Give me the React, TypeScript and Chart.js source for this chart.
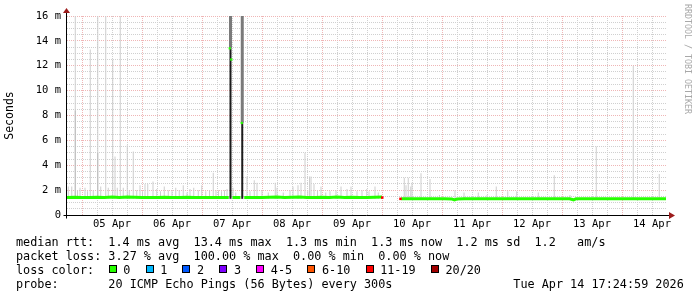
import React, { useEffect, useRef } from 'react';
import { Chart, registerables } from 'chart.js';

Chart.register(...registerables);

// ---- tick labels ----
const DAY_LABELS = ['05 Apr', '06 Apr', '07 Apr', '08 Apr', '09 Apr', '10 Apr', '11 Apr', '12 Apr', '13 Apr', '14 Apr'];
const DAY_LABEL_HOURS = [18, 42, 66, 90, 114, 138, 162, 186, 210, 234];
const MIDNIGHT_HOURS = [6, 30, 54, 78, 102, 126, 150, 174, 198, 222];
const Y_TICK_VALUES = [0, 2, 4, 6, 8, 10, 12, 14, 16];
const Y_TICK_LABELS = ['0', '2 m', '4 m', '6 m', '8 m', '10 m', '12 m', '14 m', '16 m'];

// ---- median rtt (ms) by hour since start of graph; null = no data ----
const MEDIAN_HOURS = [
  0, 3, 6, 9, 12, 15, 18, 21, 24, 27, 30, 33, 36, 39, 42, 45, 48, 51, 54, 57, 60, 63, 64.7,
  64.8, 66.1, 66.2, 69.4, 69.5, 70.8, 70.9, 72, 75, 78, 81, 84, 87, 90, 93, 96, 99, 102, 105,
  108, 111, 114, 117, 120, 123, 126, 130, 133.7, 136, 139, 142, 145, 148, 151, 154, 155, 156,
  159, 162, 165, 168, 171, 174, 177, 180, 183, 186, 189, 192, 195, 198, 201, 202.6, 203.6,
  205, 208, 211, 214, 217, 220, 223, 226, 229, 232, 235, 238, 239.6,
];
const MEDIAN_MS = [
  1.4, 1.43, 1.4, 1.4, 1.42, 1.4, 1.45, 1.4, 1.45, 1.42, 1.4, 1.4, 1.4, 1.42, 1.4, 1.4, 1.42, 1.4, 1.4, 1.4, 1.4, 1.4, 1.4,
  null, null, 1.4, 1.4, null, null, 1.4, 1.4, 1.4, 1.4, 1.42, 1.45, 1.4, 1.42, 1.45, 1.4, 1.4, 1.42, 1.4,
  1.45, 1.4, 1.42, 1.4, 1.4, 1.42, 1.45, null, 1.3, 1.3, 1.3, 1.3, 1.3, 1.3, 1.3, 1.28, 1.22, 1.28,
  1.3, 1.3, 1.3, 1.3, 1.3, 1.3, 1.3, 1.3, 1.3, 1.3, 1.3, 1.3, 1.3, 1.3, 1.3, 1.22, 1.3,
  1.3, 1.3, 1.3, 1.3, 1.3, 1.3, 1.3, 1.3, 1.3, 1.3, 1.3, 1.3, 1.3,
];
// median values during the two latency spikes
const SPIKE_MEDIAN_HOURS = [65.1, 65.7, 69.9];
const SPIKE_MEDIAN_MS = [13.4, 12.5, 7.4];
// loss markers (11-19 lost) at the edges of the outage
const LOSS_MARK_HOURS = [126.1, 133.4];
const LOSS_MARK_MS = [1.4, 1.3];

// ---- smoke (max rtt of the 20 pings), ms ----
const SMOKE_BASE = 1.3;
const SMOKE_HOURS = [
  0.5, 1.9, 3.3, 4.2, 5.2, 7.2, 8.2, 9.3, 10.5, 12.3, 13.5, 15.5, 16.5, 18.3, 19.2, 20.1, 21.3, 22.5,
  24.1, 24.9, 26.5, 27.9, 29.2, 30.2, 31.2, 32.3, 34.4, 35.9, 37.4, 38.9, 40.5, 42, 43.5, 44.9, 46.5,
  48, 49.2, 50.7, 52.5, 53.9, 55.5, 57, 58.5, 59.6, 60.6, 61.8, 63, 64, 66.4, 67.5, 72, 73.2, 74.9,
  76, 78, 80.5, 83.3, 84, 86.5, 89.2, 90.4, 92.4, 93.6, 95.2, 96.3, 97, 97.6, 98.8, 100.2, 101.6,
  103.5, 105.2, 107.6, 109.6, 112, 113.6, 116, 118, 119.9, 120.8, 123.2, 124.5, 134.9, 135.6, 136.5,
  137.5, 138, 141.6, 145.2, 149, 155.2, 158.8, 164.5, 168, 171.7, 176.3, 179.9, 188.5, 194.9, 201.2,
  211.7, 226.5, 236.9,
];
const SMOKE_MAX = [
  2.3, 2.3, 16.5, 2.0, 2.2, 2.2, 1.9, 13.3, 2.0, 16.5, 2.3, 16.5, 2.2, 12.5, 4.7, 2.2, 16.5, 2.2,
  5.6, 2.0, 5.1, 2.0, 2.4, 1.9, 2.5, 2.5, 2.7, 2.1, 1.9, 2.3, 2.0, 1.9, 2.2, 2.0, 2.4,
  1.8, 2.1, 2.2, 2.0, 2.4, 1.9, 2.0, 3.4, 2.0, 2.0, 1.9, 2.0, 2.1, 2.2, 1.8, 3.1, 1.9, 2.8,
  2.6, 2.0, 1.8, 2.6, 2.2, 1.8, 2.0, 2.3, 2.4, 2.6, 5.0, 2.0, 3.1, 3.1, 2.5, 2.0, 2.3,
  1.8, 1.9, 2.0, 2.3, 2.1, 2.3, 1.9, 2.0, 2.1, 1.9, 2.3, 1.8, 3.0, 2.4, 3.0,
  2.3, 2.6, 3.35, 2.9, 1.6, 2.0, 1.8, 1.8, 1.6, 2.3, 1.9, 1.9, 1.8, 3.2, 1.6,
  5.5, 12.0, 3.3,
];
// denser (darker) smoke on two of the early spikes
const DENSE_SMOKE_HOURS = [3.3, 12.3];
const DENSE_SMOKE_MAX = [8.4, 5.0];
// the two big latency spikes
const SPIKE_HOURS = [65.4, 70.1];
const SPIKE_DENSE_MAX = [13.4, 7.4];
const SPIKE_MAX = [16.5, 16.5];

// ---- legend ----
const LOSS_LABELS = ['0', '1', '2', '3', '4-5', '6-10', '11-19', '20/20'];
const LOSS_COLORS = ['#26ff00', '#00b8ff', '#0059ff', '#7e00ff', '#ff00ff', '#ff5500', '#ff0000', '#a10000'];
const LINE_RTT = 'median rtt:  1.4 ms avg  13.4 ms max  1.3 ms min  1.3 ms now  1.2 ms sd  1.2   am/s';
const LINE_LOSS = 'packet loss: 3.27 % avg  100.00 % max  0.00 % min  0.00 % now';
const LINE_COLOR = 'loss color:';
const LINE_PROBE = 'probe:       20 ICMP Echo Pings (56 Bytes) every 300s';
const DATE_TEXT = 'Tue Apr 14 17:24:59 2026';
const WATERMARK = 'RRDTOOL / TOBI OETIKER';

const MONO = "'DejaVu Sans Mono', monospace";
const MAJOR_GRID = '#efb6b6';
const MINOR_GRID = '#d0d0d0';

export default function App() {
  const ref = useRef<HTMLCanvasElement>(null);

  useEffect(() => {
    const canvas = ref.current;
    if (!canvas) return;

    const axesPlugin = {
      id: 'rrdAxes',
      afterDatasetsDraw(chart: any) {
        const { ctx, chartArea } = chart;
        const { left, right, top, bottom } = chartArea;
        const yb = Math.round(bottom) + 0.5;
        const xl = Math.round(left) - 0.5;
        ctx.save();
        ctx.strokeStyle = '#000';
        ctx.lineWidth = 1;
        ctx.beginPath();
        ctx.moveTo(xl - 3, yb);
        ctx.lineTo(right + 3, yb);
        ctx.moveTo(xl, yb + 3);
        ctx.lineTo(xl, top - 3);
        ctx.stroke();
        ctx.fillStyle = '#9c1c1c';
        ctx.beginPath();
        ctx.moveTo(right + 2, yb - 3.5);
        ctx.lineTo(right + 8, yb);
        ctx.lineTo(right + 2, yb + 3.5);
        ctx.closePath();
        ctx.fill();
        ctx.beginPath();
        ctx.moveTo(xl - 3.5, top - 3);
        ctx.lineTo(xl, top - 8);
        ctx.lineTo(xl + 3.5, top - 3);
        ctx.closePath();
        ctx.fill();
        ctx.restore();
      },
    };

    const medianData = MEDIAN_HOURS.map((h, i) => ({ x: h, y: MEDIAN_MS[i] }));
    const smokeData = SMOKE_HOURS.map((h, i) => ({ x: h, y: [SMOKE_BASE, SMOKE_MAX[i]] }));
    const denseData = DENSE_SMOKE_HOURS.map((h, i) => ({ x: h, y: [SMOKE_BASE, DENSE_SMOKE_MAX[i]] }));
    const spikeTopData = SPIKE_HOURS.map((h, i) => ({ x: h, y: [SPIKE_DENSE_MAX[i], SPIKE_MAX[i]] }));
    const spikeDenseData = SPIKE_HOURS.map((h, i) => ({ x: h, y: [SMOKE_BASE, SPIKE_DENSE_MAX[i]] }));
    const spikeMedianData = SPIKE_MEDIAN_HOURS.map((h, i) => ({ x: h, y: SPIKE_MEDIAN_MS[i] }));
    const lossData = LOSS_MARK_HOURS.map((h, i) => ({ x: h, y: LOSS_MARK_MS[i] }));

    const barCommon = { grouped: false, borderWidth: 0, inflateAmount: 0, borderSkipped: false as any };

    const chart = new Chart(canvas, {
      type: 'bar',
      data: {
        datasets: [
          { ...barCommon, type: 'bar', data: smokeData as any, backgroundColor: '#cdcdcd', barThickness: 1, order: 5 },
          { ...barCommon, type: 'bar', data: denseData as any, backgroundColor: '#bdbdbd', barThickness: 1, order: 4 },
          { ...barCommon, type: 'bar', data: spikeTopData as any, backgroundColor: '#7a7a7a', barThickness: 3, order: 3 },
          { ...barCommon, type: 'bar', data: spikeDenseData as any, backgroundColor: '#1c1c1c', barThickness: 2, order: 3 },
          {
            type: 'line', data: medianData as any, borderColor: '#26ff00', borderWidth: 3, pointRadius: 0,
            spanGaps: false, tension: 0, borderCapStyle: 'butt', order: 1,
          } as any,
          {
            type: 'line', data: spikeMedianData as any, showLine: false, pointStyle: 'rect', pointRadius: 1.6,
            pointBackgroundColor: '#26ff00', pointBorderWidth: 0, order: 0,
          } as any,
          {
            type: 'line', data: lossData as any, showLine: false, pointStyle: 'rect', pointRadius: 1.8,
            pointBackgroundColor: '#ff0000', pointBorderWidth: 0, order: 0,
          } as any,
        ],
      },
      options: {
        responsive: false,
        animation: false,
        devicePixelRatio: 1,
        layout: { padding: { top: 16, right: 30, left: 0, bottom: 0 } },
        plugins: { legend: { display: false }, tooltip: { enabled: false } },
        scales: {
          x: {
            type: 'linear',
            min: 0,
            max: 240,
            offset: false,
            grid: {
              offset: false,
              drawTicks: false,
              lineWidth: 1,
              color: (c: any) => {
                const v = c.tick ? c.tick.value : -1;
                if (v <= 0 || v >= 240) return 'rgba(0,0,0,0)';
                return MIDNIGHT_HOURS.includes(v) ? MAJOR_GRID : MINOR_GRID;
              },
            },
            border: { display: false, dash: [1, 1] },
            ticks: {
              stepSize: 6,
              autoSkip: false,
              maxRotation: 0,
              padding: 3,
              color: '#000',
              font: { family: 'DejaVu Sans Mono', size: 10.5 },
              callback: (v: any) => {
                const idx = DAY_LABEL_HOURS.indexOf(Number(v));
                return idx >= 0 ? DAY_LABELS[idx] : '';
              },
            },
            afterFit: (s: any) => { s.height = 82; },
          } as any,
          y: {
            type: 'linear',
            min: 0,
            max: 16,
            grid: {
              drawTicks: false,
              lineWidth: 1,
              color: (c: any) => {
                const v = c.tick ? c.tick.value : -1;
                if (v <= 0) return 'rgba(0,0,0,0)';
                return Y_TICK_VALUES.includes(v) ? MAJOR_GRID : MINOR_GRID;
              },
            },
            border: { display: false, dash: [1, 1] },
            ticks: {
              stepSize: 0.5,
              autoSkip: false,
              padding: 6,
              color: '#000',
              font: { family: 'DejaVu Sans Mono', size: 10.5 },
              callback: (v: any) => {
                const idx = Y_TICK_VALUES.indexOf(Number(v));
                return idx >= 0 ? Y_TICK_LABELS[idx] : '';
              },
            },
            title: {
              display: true,
              text: 'Seconds',
              color: '#000',
              font: { family: 'DejaVu Sans Mono', size: 11.5 },
              padding: { top: 3.5, bottom: 0 },
            },
            afterFit: (s: any) => { s.width = 67; },
          } as any,
        },
      },
      plugins: [axesPlugin],
    });
    return () => chart.destroy();
  }, []);

  const textStyle: React.CSSProperties = {
    position: 'absolute',
    fontFamily: MONO,
    fontSize: '11.8px',
    lineHeight: '14px',
    whiteSpace: 'pre',
    color: '#000',
  };

  return (
    <div style={{ position: 'fixed', left: 0, top: 0, width: 697, height: 297, background: '#fff', overflow: 'hidden' }}>
      <canvas ref={ref} width={697} height={297} style={{ position: 'absolute', left: 0, top: 0, width: 697, height: 297 }} />
      <div style={{ ...textStyle, left: 16, top: 235 }}>{LINE_RTT}</div>
      <div style={{ ...textStyle, left: 16, top: 249 }}>{LINE_LOSS}</div>
      <div style={{ ...textStyle, left: 16, top: 263 }}>{LINE_COLOR}</div>
      <div style={{ ...textStyle, left: 108.7, top: 263, display: 'flex', alignItems: 'flex-start' }}>
        {LOSS_LABELS.map((lab, i) => (
          <span key={lab} style={{ display: 'flex', alignItems: 'flex-start' }}>
            <span
              style={{
                display: 'inline-block', width: 8, height: 8, boxSizing: 'border-box', marginTop: 2,
                border: '1px solid #000', background: LOSS_COLORS[i], marginRight: 6.6,
              }}
            />
            <span style={{ marginRight: 15.2 }}>{lab}</span>
          </span>
        ))}
      </div>
      <div style={{ ...textStyle, left: 16, top: 277 }}>{LINE_PROBE}</div>
      <div style={{ ...textStyle, left: 513.3, top: 277 }}>{DATE_TEXT}</div>
      <div
        style={{
          position: 'absolute', left: 683, top: 4, writingMode: 'vertical-rl', fontFamily: MONO,
          fontSize: '8.3px', lineHeight: '10px', color: '#a8a8a8', whiteSpace: 'pre',
        }}
      >
        {WATERMARK}
      </div>
    </div>
  );
}
